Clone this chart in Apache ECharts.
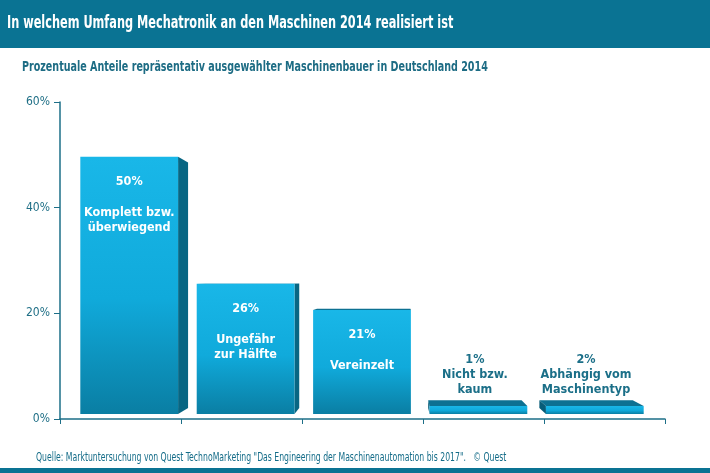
<!DOCTYPE html>
<html><head><meta charset="utf-8">
<script src="https://cdn.jsdelivr.net/npm/echarts@6/dist/echarts.min.js"></script>
<style>html,body{margin:0;padding:0;background:#fff}#c{width:710px;height:473px}</style>
</head><body><div id="c"></div>
<script>
var categories = ['Komplett bzw.\nüberwiegend', 'Ungefähr\nzur Hälfte', 'Vereinzelt', 'Nicht bzw.\nkaum', 'Abhängig vom\nMaschinentyp'];
var values = [50, 26, 21, 1, 2];
var yTicks = [0, 20, 40, 60];
var titleText = 'In welchem Umfang Mechatronik an den Maschinen 2014 realisiert ist';
var subtitleText = 'Prozentuale Anteile repräsentativ ausgewählter Maschinenbauer in Deutschland 2014';
var sourceText = 'Quelle: Marktuntersuchung von Quest TechnoMarketing "Das Engineering der Maschinenautomation bis 2017".   \u00a9 Quest';

var COND = '"DejaVu Sans Condensed", "DejaVu Sans", sans-serif';
var teal = '#0a7393';
var axisCol = '#1d6f88';
var VP = [400, 280], DEPTH = 0.045;

var chart = echarts.init(document.getElementById('c'), null, {renderer: 'canvas'});

function renderBar(params, api) {
  var i = api.value(0), v = api.value(1);
  var pt = api.coord([i, v]);
  var base = api.coord([i, 0]);
  var w = api.size([1, 0])[0] * 0.84;
  var x0 = pt[0] - w / 2, x1 = pt[0] + w / 2;
  var yb = base[1] - 5;
  var yt = Math.min(pt[1] + 2, yb - 8);
  function back(p) { return [p[0] + DEPTH * (VP[0] - p[0]), p[1] + DEPTH * (VP[1] - p[1])]; }
  var fTL = [x0, yt], fTR = [x1, yt], fBR = [x1, yb], fBL = [x0, yb];
  var bTL = back(fTL), bTR = back(fTR), bBR = back(fBR), bBL = back(fBL);
  var children = [];
  function quad(a, b, c, d, col) {
    children.push({type: 'polygon', shape: {points: [a, b, c, d]}, style: {fill: col}});
  }
  if (bTL[1] < yt) quad(fTL, fTR, bTR, bTL, '#0d7192');
  if (bBL[1] > yb) quad(fBL, fBR, bBR, bBL, '#075a74');
  if (bTL[0] < x0) quad(fTL, fBL, bBL, bTL, '#075c78');
  if (bTR[0] > x1) quad(fTR, fBR, bBR, bTR, '#086683');
  children.push({
    type: 'rect', shape: {x: x0, y: yt, width: x1 - x0, height: yb - yt},
    style: {fill: new echarts.graphic.LinearGradient(0, 0, 0, 1, [
      {offset: 0, color: '#19b7e8'}, {offset: 0.55, color: '#10aadb'}, {offset: 1, color: '#0a7ea3'}])}
  });
  var name = categories[params.dataIndex];
  if (yb - yt > 60) {
    children.push({type: 'text', style: {
      text: v + '%\n\n' + name, x: (x0 + x1) / 2, y: yt + 17, align: 'center', verticalAlign: 'top',
      fill: '#ffffff', font: 'bold 12.5px ' + COND, lineHeight: 15.5}});
  } else {
    var topY = Math.min(bTL[1], yt);
    children.push({type: 'text', style: {
      text: v + '%\n' + name, x: (bTL[0] + bTR[0]) / 2, y: topY - 3, align: 'center', verticalAlign: 'bottom',
      fill: '#1b6f88', font: 'bold 12.5px ' + COND, lineHeight: 15}});
  }
  return {type: 'group', children: children};
}

var option = {
  backgroundColor: '#ffffff',
  animation: false,
  graphic: [
    {type: 'rect', shape: {x: 0, y: 0, width: 710, height: 48}, style: {fill: teal}, z: -1},
    {type: 'rect', shape: {x: 0, y: 468, width: 710, height: 5}, style: {fill: teal}, z: -1},
    {type: 'text', x: 7, y: 24, scaleX: 0.74, style: {text: titleText, fill: '#ffffff', font: 'bold 17px ' + COND, verticalAlign: 'middle'}},
    {type: 'text', x: 22, y: 67, scaleX: 0.787, style: {text: subtitleText, fill: '#1d6c84', font: 'bold 13.5px ' + COND, verticalAlign: 'middle'}},
    {type: 'text', x: 36, y: 458, scaleX: 0.716, style: {text: sourceText, fill: '#146c88', font: '12px ' + COND, verticalAlign: 'middle'}}
  ],
  grid: [
    {left: 60, right: 45, top: 102, bottom: 54},
    {left: 71, right: 57, top: 102, bottom: 54}
  ],
  xAxis: [
    {type: 'category', gridIndex: 0, data: categories, boundaryGap: true,
     axisLine: {lineStyle: {color: axisCol, width: 1.5}},
     axisTick: {show: true, length: 5, lineStyle: {color: axisCol}},
     axisLabel: {show: false}},
    {type: 'category', gridIndex: 1, data: categories, boundaryGap: true, show: false}
  ],
  yAxis: [
    {type: 'value', gridIndex: 0, min: yTicks[0], max: yTicks[yTicks.length - 1], interval: 20,
     axisLine: {show: true, lineStyle: {color: axisCol, width: 1.5}},
     axisTick: {show: true, length: 6, lineStyle: {color: axisCol}},
     splitLine: {show: false},
     axisLabel: {formatter: '{value}%', color: '#1f6f86', fontFamily: COND, fontSize: 12, margin: 10}},
    {type: 'value', gridIndex: 1, min: yTicks[0], max: yTicks[yTicks.length - 1], show: false, splitLine: {show: false}}
  ],
  series: [{
    type: 'custom', xAxisIndex: 1, yAxisIndex: 1,
    data: values.map(function (v, i) { return [i, v]; }),
    renderItem: renderBar
  }]
};
chart.setOption(option);
</script>
</body></html>
